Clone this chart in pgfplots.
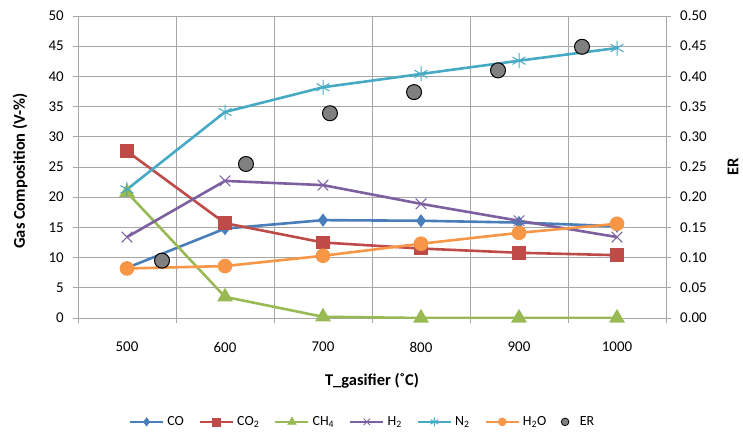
\documentclass[border=0pt]{standalone}
\usepackage{pgfplots}
\pgfplotsset{compat=1.18}
\usepackage{fontspec}
\setmainfont{Carlito}
\usetikzlibrary{plotmarks}
\definecolor{cCO}{HTML}{4A7EBB}
\definecolor{cCOtwo}{HTML}{BE4B48}
\definecolor{cCH}{HTML}{98B954}
\definecolor{cH}{HTML}{7D60A0}
\definecolor{cN}{HTML}{46AAC5}
\definecolor{cHO}{HTML}{F79646}
\definecolor{cER}{HTML}{808080}
\definecolor{gridc}{HTML}{A6A6A6}
\begin{document}
\fontsize{15}{17}\selectfont
\begin{tikzpicture}
\useasboundingbox (-78bp,-123bp) rectangle (665bp,318bp);
\pgfplotsset{
  common/.style={
    scale only axis, width=588bp, height=302bp,
    at={(0,0)}, anchor=south west,
    xmin=450, xmax=1050,
    tick label style={font=\fontsize{15}{17}\selectfont},
    label style={font=\bfseries\fontsize{16.5}{18}\selectfont},
    /pgf/number format/assume math mode=true,
    /pgf/number format/set thousands separator={},
    axis line style={gridc, line width=0.8bp},
    tick style={gridc, line width=0.8bp},
    tick align=outside,
  },
  ln/.style={line width=2.6bp, mark options={solid}},
  lg/.style={line width=2.4bp, mark options={solid, line width=0.6bp}},
}
\begin{axis}[common,
  ymin=0, ymax=50, ytick={0,5,...,50},
  xtick={500,600,...,1000},
  minor xtick={450,550,...,1050},
  xtick pos=left, ytick pos=left,
  major x tick style={draw=none},
  minor tick length=5bp, major tick length=5bp,
  xminorgrids, ymajorgrids,
  minor grid style={gridc, line width=0.8bp},
  major grid style={gridc, line width=0.8bp},
  xticklabel style={yshift=-14bp},
  yticklabel style={xshift=-4bp},
  xlabel={T\_gasifier (˚C)},
  ylabel={Gas Composition (V-\%)},
  x label style={at={(axis description cs:0.5,-0.2086)}, anchor=center},
  y label style={at={(axis description cs:-0.0986,0.487)}, anchor=center},
  legend columns=7,
  legend style={at={(axis description cs:0.484,-0.344)}, anchor=center, draw=none, fill=none,
    font=\fontsize{14}{16}\selectfont,
    /tikz/every even column/.append style={column sep=13bp},
    /tikz/every odd column/.append style={column sep=1bp}},
  legend image code/.code={\draw[mark repeat=2,mark phase=2] plot coordinates {(0bp,0bp) (16.5bp,0bp) (33bp,0bp)};},
]
% legend entries (small markers as in the reference legend)
\addlegendimage{lg, cCO, mark=diamond*, mark size=4.2bp}
\addlegendentry{CO}
\addlegendimage{lg, cCOtwo, mark=square*, mark size=4bp}
\addlegendentry{CO\textsubscript{2}}
\addlegendimage{lg, cCH, mark=triangle*, mark size=4.8bp}
\addlegendentry{CH\textsubscript{4}}
\addlegendimage{lg, cH, mark=x, mark size=4.5bp, mark options={solid, line width=0.9bp}}
\addlegendentry{H\textsubscript{2}}
\addlegendimage{lg, cN, mark=asterisk, mark size=4.5bp, mark options={solid, line width=0.9bp}}
\addlegendentry{N\textsubscript{2}}
\addlegendimage{lg, cHO, mark=*, mark size=4bp}
\addlegendentry{H\textsubscript{2}O}
\addlegendimage{only marks, mark=*, mark size=3.8bp, mark options={fill=cER, draw=black, line width=0.8bp},
  legend image code/.code={\draw plot coordinates {(16.5bp,0bp)};}}
\addlegendentry{\hspace{8bp}ER}
% data
\addplot[forget plot, ln, cCO, mark=diamond*, mark size=4.5bp] coordinates {(500,8.3) (600,14.8) (700,16.2) (800,16.1) (900,15.8) (1000,15.2)};
\addplot[forget plot, ln, cCOtwo, mark=square*, mark size=5.5bp] coordinates {(500,27.6) (600,15.7) (700,12.5) (800,11.5) (900,10.8) (1000,10.4)};
\addplot[forget plot, ln, cCH, mark=triangle*, mark size=6.5bp] coordinates {(500,20.8) (600,3.5) (700,0.2) (800,0) (900,0) (1000,0)};
\addplot[forget plot, ln, cH, mark=x, mark size=7.5bp, mark options={line width=1bp}] coordinates {(500,13.4) (600,22.7) (700,22.0) (800,18.9) (900,16.1) (1000,13.4)};
\addplot[forget plot, ln, cN, mark=asterisk, mark size=7.5bp, mark options={line width=1bp}] coordinates {(500,21.3) (600,34.1) (700,38.2) (800,40.4) (900,42.6) (1000,44.7)};
\addplot[forget plot, ln, cHO, mark=*, mark size=6bp] coordinates {(500,8.2) (600,8.6) (700,10.3) (800,12.3) (900,14.1) (1000,15.6)};
\end{axis}
\begin{axis}[common,
  ymin=0, ymax=0.5, ytick={0,0.05,...,0.51},
  axis x line=none, axis y line*=right,
  ytick pos=right,
  major tick length=5bp,
  yticklabel style={/pgf/number format/fixed, /pgf/number format/fixed zerofill, /pgf/number format/precision=2, xshift=4bp},
  ylabel={ER},
  y label style={at={(axis description cs:1.114,0.5)}, anchor=center},
]
\addplot[only marks, mark=*, mark size=7.5bp, mark options={fill=cER, draw=black, line width=1bp}] coordinates {(535.7,0.095) (621.4,0.255) (707.1,0.339) (792.9,0.374) (878.6,0.410) (964.3,0.449)};
\end{axis}
\end{tikzpicture}
\end{document}
